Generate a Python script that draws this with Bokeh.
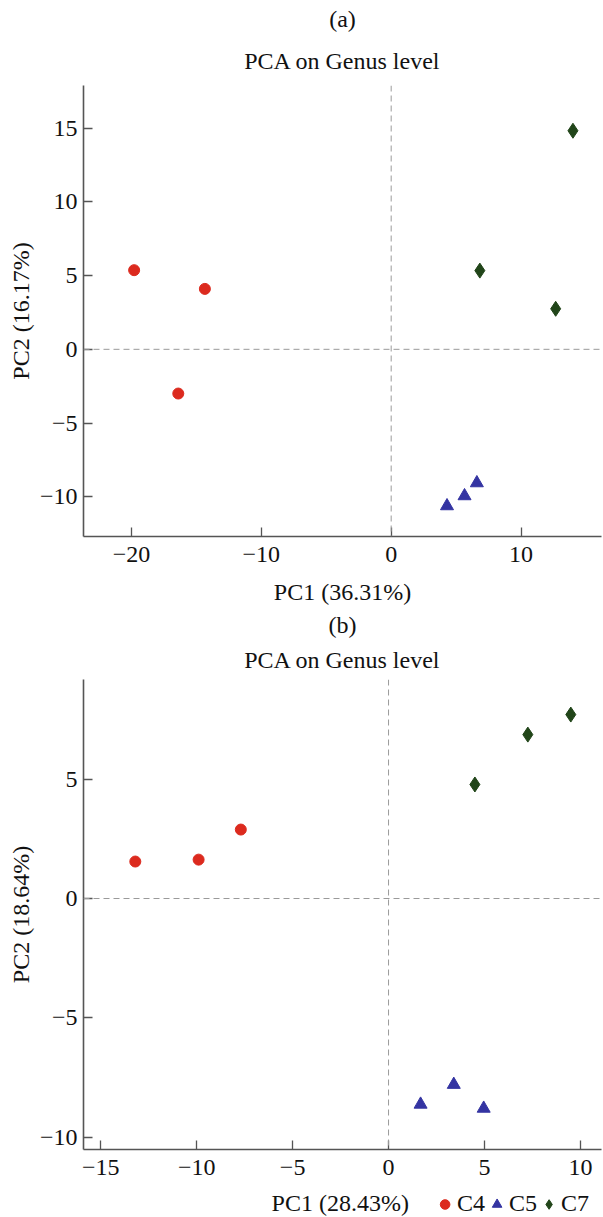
from bokeh.plotting import figure
from bokeh.models import Span, Title, Legend, LegendItem, Range1d, FixedTicker
from bokeh.core.properties import value
from bokeh.layouts import column
from bokeh.embed import file_html
from bokeh.resources import INLINE

# ---------------- data ----------------
groups = ["C4", "C5", "C7"]

a_c4_x = [-19.8, -14.35, -16.4]
a_c4_y = [5.37, 4.10, -3.0]
a_c5_x = [4.3, 5.65, 6.6]
a_c5_y = [-10.63, -9.95, -9.07]
a_c7_x = [14.0, 6.83, 12.67]
a_c7_y = [14.83, 5.34, 2.75]

b_c4_x = [-13.2, -9.9, -7.7]
b_c4_y = [1.55, 1.63, 2.89]
b_c5_x = [1.67, 3.4, 4.96]
b_c5_y = [-8.63, -7.8, -8.8]
b_c7_x = [4.5, 7.26, 9.5]
b_c7_y = [4.78, 6.87, 7.71]

a_xticks = [-20, -10, 0, 10]
a_yticks = [-10, -5, 0, 5, 10, 15]
b_xticks = [-15, -10, -5, 0, 5, 10]
b_yticks = [-10, -5, 0, 5]

a_xlabel = "PC1 (36.31%)"
a_ylabel = "PC2 (16.17%)"
b_xlabel = "PC1 (28.43%)"
b_ylabel = "PC2 (18.64%)"
title_text = "PCA on Genus level"

# ---------------- style ----------------
FONT = "Liberation Serif"
FS = "24px"
TXT = "#111111"
AX = "#555555"
COL = {"C4": "#dc2a1e", "C5": "#3434a2", "C7": "#214519"}
MARK = {"C4": "circle", "C5": "triangle", "C7": "diamond"}
SIZE = {"C4": 11, "C5": 13, "C7": 15}
NB = "\u00a0"


def minus(v):
    return str(v).replace("-", "\u2212")


def make(letter, xr, yr, xt, yt, xl, yl, data, h, top, bottom, s1, s2):
    p = figure(width=603, height=h, x_range=Range1d(*xr), y_range=Range1d(*yr),
               output_backend="svg", toolbar_location=None,
               min_border_left=83, min_border_right=2,
               min_border_top=top, min_border_bottom=bottom,
               title=letter)
    p.title.align = "center"
    p.title.text_font = FONT
    p.title.text_font_size = FS
    p.title.text_font_style = "normal"
    p.title.text_color = TXT
    p.title.standoff = s2
    t2 = Title(text=title_text, align="center", text_font=FONT, text_font_size=FS,
               text_font_style="normal", text_color=TXT, standoff=s1)
    p.add_layout(t2, "above")
    p.outline_line_color = None
    p.grid.visible = False
    p.background_fill_color = "white"
    p.border_fill_color = "white"

    for ax, ticks in ((p.xaxis[0], xt), (p.yaxis[0], yt)):
        ax.ticker = FixedTicker(ticks=ticks)
        ax.major_label_overrides = {t: minus(t) for t in ticks}
        ax.minor_tick_line_color = None
        ax.major_tick_in = 9
        ax.major_tick_out = 0
        ax.axis_line_color = AX
        ax.axis_line_width = 1.6
        ax.major_tick_line_color = AX
        ax.major_tick_line_width = 1.3
        ax.major_label_text_font = FONT
        ax.major_label_text_font_size = FS
        ax.major_label_text_color = TXT
        ax.axis_label_text_font = FONT
        ax.axis_label_text_font_size = FS
        ax.axis_label_text_font_style = "normal"
        ax.axis_label_text_color = TXT
    if xl:
        p.xaxis.axis_label = xl
    p.yaxis.axis_label = yl
    p.xaxis.major_label_standoff = 10
    p.xaxis.axis_label_standoff = 14
    p.yaxis.major_label_standoff = 6
    p.yaxis.axis_label_standoff = 3

    p.add_layout(Span(location=0, dimension="height", line_color="#9a9a9a",
                      line_dash="6 4", line_width=1))
    p.add_layout(Span(location=0, dimension="width", line_color="#9a9a9a",
                      line_dash="6 4", line_width=1))

    for g in groups:
        xs, ys = data[g]
        p.scatter(xs, ys, marker=MARK[g], size=SIZE[g], fill_color=COL[g],
                  line_color=COL[g], line_width=1)
    return p


b_data = {"C4": (b_c4_x, b_c4_y), "C5": (b_c5_x, b_c5_y), "C7": (b_c7_x, b_c7_y)}

pa = make("(a)", (-23.7, 16.2), (-12.7, 17.9), a_xticks, a_yticks, a_xlabel, a_ylabel,
          {"C4": (a_c4_x, a_c4_y), "C5": (a_c5_x, a_c5_y), "C7": (a_c7_x, a_c7_y)},
          608, 85, 72, 24, 4)
# panel (b): its x-axis title is set on the bottom row, together with the legend
pb = make("(b)", (-15.9, 11.1), (-10.52, 9.18), b_xticks, b_yticks, None, b_ylabel,
          b_data, 581, 71, 40, 13, 1)

# bottom row: "PC1 (28.43%)" followed by the legend of the three groups
pl = figure(width=603, height=28, x_range=Range1d(0, 1), y_range=Range1d(0, 1),
            output_backend="svg", toolbar_location=None,
            x_axis_location=None, y_axis_location=None,
            min_border_left=0, min_border_right=2, min_border_top=0, min_border_bottom=0)
pl.outline_line_color = None
pl.grid.visible = False
blank = pl.scatter(x=[], y=[], size=1, fill_alpha=0, line_alpha=0)
items = [LegendItem(label=value(b_xlabel + NB * 4), renderers=[blank])]
for i, g in enumerate(groups):
    xs, ys = b_data[g]
    # same series as panel (b); they fall outside this strip's ranges, so only the key shows
    r = pl.scatter(xs, ys, marker=MARK[g], size=SIZE[g], fill_color=COL[g],
                   line_color=COL[g], line_width=1)
    lab = g + (NB * 2 if i == len(groups) - 1 else "")
    items.append(LegendItem(label=value(lab), renderers=[r]))
lg = Legend(items=items, orientation="horizontal", location="bottom_right",
            glyph_width=24, glyph_height=24, label_standoff=0, spacing=0,
            padding=0, margin=0, border_line_color=None,
            background_fill_alpha=0, label_text_font=FONT,
            label_text_font_size=FS, label_text_color=TXT)
pl.add_layout(lg, "center")

layout = column(pa, pb, pl, spacing=0)
open("out.html", "w").write(file_html(layout, INLINE))
